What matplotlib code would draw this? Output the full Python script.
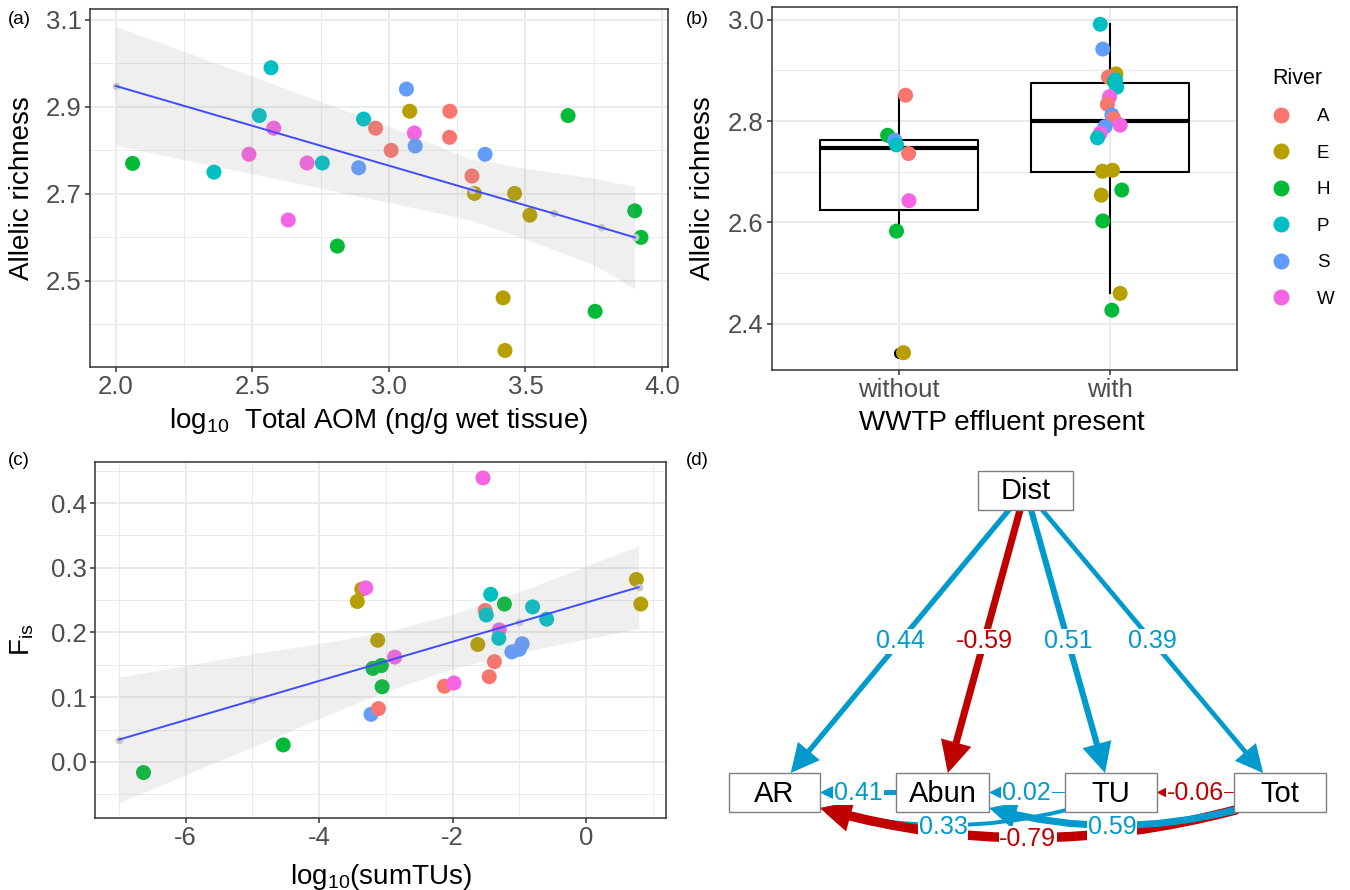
import matplotlib
matplotlib.use('Agg')
import matplotlib.pyplot as plt
import numpy as np
from matplotlib.lines import Line2D
from matplotlib.patches import FancyArrowPatch, Rectangle
from matplotlib.ticker import MultipleLocator

plt.rcParams['font.family'] = ['Liberation Sans', 'DejaVu Sans']
plt.rcParams['mathtext.fontset'] = 'custom'
plt.rcParams['mathtext.rm'] = 'Liberation Sans'
plt.rcParams['mathtext.it'] = 'Liberation Sans:italic'
plt.rcParams['axes.unicode_minus'] = False

rivers = ['A', 'E', 'H', 'P', 'S', 'W']
river_cols = ['#F8766D', '#B79F00', '#00BA38', '#00BFC4', '#619CFF', '#F564E3']
col_of = dict(zip(rivers, river_cols))

# ---- (a) allelic richness vs log10 total AOM
a_river = ['H', 'P', 'P', 'P', 'W', 'W', 'W', 'P', 'W', 'H', 'S', 'P', 'A', 'A', 'S', 'E',
           'W', 'S', 'A', 'A', 'S', 'A', 'E', 'E', 'E', 'H', 'H', 'H', 'E', 'H', 'E']
a_aom = [2.061, 2.359, 2.568, 2.525, 2.578, 2.487, 2.700, 2.756, 2.631, 2.811, 2.889, 2.907,
         2.951, 3.008, 3.064, 3.076, 3.093, 3.096, 3.223, 3.222, 3.352, 3.304, 3.313, 3.460,
         3.516, 3.656, 3.900, 3.923, 3.418, 3.755, 3.425]
a_ar = [2.770, 2.750, 2.990, 2.880, 2.851, 2.791, 2.771, 2.771, 2.640, 2.580, 2.760, 2.872,
        2.851, 2.800, 2.941, 2.890, 2.840, 2.810, 2.890, 2.830, 2.791, 2.741, 2.701, 2.701,
        2.651, 2.880, 2.661, 2.600, 2.461, 2.430, 2.340]
a_fit_x = [2.0, 3.305, 3.603, 3.776, 3.9]
a_fit_y = [2.948, 2.709, 2.655, 2.623, 2.600]
a_band_x = [2.0, 2.5, 3.0, 3.3, 3.5, 3.75, 3.9]
a_band_hi = [3.085, 2.970, 2.855, 2.780, 2.759, 2.736, 2.717]
a_band_lo = [2.811, 2.746, 2.680, 2.640, 2.596, 2.537, 2.482]

# ---- (b) allelic richness by WWTP effluent
b_groups = ['without', 'with']
b_without_river = ['A', 'H', 'S', 'P', 'A', 'W', 'H', 'E']
b_without_ar = [2.851, 2.772, 2.762, 2.753, 2.736, 2.643, 2.583, 2.343]
b_without_jit = [0.032, -0.053, -0.019, -0.011, 0.046, 0.048, -0.011, 0.022]
b_with_river = ['P', 'S', 'E', 'A', 'H', 'P', 'P', 'W', 'A', 'S', 'A', 'W', 'S', 'W', 'P',
                'E', 'E', 'H', 'E', 'H', 'E', 'H']
b_with_ar = [2.991, 2.942, 2.893, 2.887, 2.878, 2.881, 2.867, 2.848, 2.833, 2.812, 2.805,
             2.792, 2.789, 2.776, 2.767, 2.701, 2.703, 2.664, 2.654, 2.603, 2.460, 2.427]
b_with_jit = [-0.047, -0.035, 0.027, -0.008, 0.020, 0.025, 0.031, -0.003, -0.013, 0.008,
              0.016, 0.047, -0.024, -0.047, -0.060, -0.036, 0.011, 0.055, -0.042, -0.035,
              0.047, 0.008]
b_box = [dict(whislo=2.583, q1=2.624, med=2.747, q3=2.762, whishi=2.851, fliers=[2.342]),
         dict(whislo=2.460, q1=2.700, med=2.800, q3=2.875, whishi=2.991, fliers=[2.427])]

# ---- (c) Fis vs log10(sumTUs)
c_river = ['H', 'H', 'S', 'A', 'H', 'H', 'H', 'W', 'E', 'E', 'E', 'W', 'A', 'W', 'W', 'E',
           'A', 'A', 'P', 'A', 'P', 'H', 'W', 'P', 'S', 'S', 'S', 'P', 'P', 'E', 'E']
c_tu = [-6.633, -4.539, -3.222, -3.111, -3.056, -3.194, -3.067, -2.867, -3.122, -3.428,
        -3.361, -3.300, -2.122, -1.978, -1.544, -1.622, -1.450, -1.372, -1.428, -1.511,
        -1.494, -1.222, -1.300, -1.306, -1.111, -1.000, -0.956, -0.800, -0.589, 0.756, 0.822]
c_fis = [-0.0165, 0.0262, 0.0735, 0.0823, 0.1162, 0.1445, 0.149, 0.162, 0.188, 0.248,
         0.267, 0.269, 0.117, 0.122, 0.439, 0.1815, 0.1316, 0.155, 0.259, 0.234, 0.227,
         0.244, 0.204, 0.191, 0.170, 0.174, 0.1825, 0.2396, 0.2206, 0.282, 0.244]
c_fit_x = [-7.0, -5.0, -1.0, 0.789]
c_fit_y = [0.0344, 0.0949, 0.2159, 0.270]
c_band_x = [-7.0, -5.0, -4.0, -3.0, -2.0, -1.0, 0.789]
c_band_hi = [0.131, 0.167, 0.183, 0.201, 0.228, 0.263, 0.334]
c_band_lo = [-0.063, 0.023, 0.067, 0.109, 0.144, 0.169, 0.206]

# ---- (d) path model
d_nodes = ['Dist', 'AR', 'Abun', 'TU', 'Tot']
d_from = ['Dist', 'Dist', 'Dist', 'Dist', 'Abun', 'TU', 'Tot', 'TU', 'Tot', 'Tot']
d_to = ['AR', 'Abun', 'TU', 'Tot', 'AR', 'Abun', 'TU', 'AR', 'AR', 'Abun']
d_coef = [0.44, -0.59, 0.51, 0.39, 0.41, 0.02, -0.06, 0.33, -0.79, 0.59]

# layout of the path diagram (pixel coords inside panel d)
node_xy = {'Dist': (1025.5, 490), 'AR': (774.5, 792.5), 'Abun': (942.5, 792.5),
           'TU': (1110.5, 792.5), 'Tot': (1279.5, 792.5)}
node_w = {'Dist': 95, 'AR': 91, 'Abun': 93, 'TU': 92, 'Tot': 92}
node_h = 39

W, H = 1350, 890
fig = plt.figure(figsize=(13.5, 8.9), dpi=100)

def px_axes(l, r, t, b):
    return fig.add_axes([l / W, 1 - b / H, (r - l) / W, (b - t) / H])

tick_col = '#4D4D4D'
grid_col = '#EBEBEB'

def style_bw(ax):
    ax.set_axisbelow(True)
    ax.grid(True, which='major', color=grid_col, lw=1.4)
    ax.grid(True, which='minor', color=grid_col, lw=0.7)
    for s in ax.spines.values():
        s.set_color('#333333')
        s.set_linewidth(1.1)
    ax.tick_params(which='major', length=3.6, width=1.1, color='#333333',
                   labelsize=18.5, labelcolor=tick_col, pad=2.5)
    ax.tick_params(which='minor', length=0)

pt_size = 117

# (a)
ax = px_axes(90, 668, 9, 367)
style_bw(ax)
ax.scatter(a_aom, a_ar, s=pt_size, c=[col_of[r] for r in a_river], lw=0, zorder=2)
ax.fill_between(a_band_x, a_band_lo, a_band_hi, color='#999999', alpha=0.15, lw=0, zorder=3)
ax.plot(a_fit_x, a_fit_y, color='#3F4CFF', lw=1.4, zorder=4)
ax.scatter(a_fit_x, a_fit_y, s=30, color='#C8C8C8', lw=0, zorder=3.5)
ax.set_xlim(1.905, 4.022)
ax.set_ylim(2.302, 3.125)
ax.xaxis.set_major_locator(MultipleLocator(0.5))
ax.xaxis.set_minor_locator(MultipleLocator(0.25))
ax.set_yticks([2.5, 2.7, 2.9, 3.1])
ax.set_yticks([2.4, 2.6, 2.8, 3.0], minor=True)
ax.xaxis.set_major_formatter(matplotlib.ticker.FormatStrFormatter('%.1f'))
ax.set_xlabel(r'$\mathregular{log_{10}}$  Total AOM (ng/g wet tissue)', fontsize=20)
ax.set_ylabel('Allelic richness', fontsize=20)
ax.xaxis.label.set_va('center')
ax.yaxis.label.set_va('center')
ax.xaxis.set_label_coords(0.5, -0.151)
ax.yaxis.set_label_coords(-0.118, 0.5)

# (b)
ax = px_axes(772, 1237, 7, 370)
style_bw(ax)
ax.bxp(b_box, positions=[1, 2], widths=0.75, showcaps=False,
       boxprops=dict(color='black', lw=1.5),
       whiskerprops=dict(color='black', lw=1.5),
       medianprops=dict(color='black', lw=3),
       flierprops=dict(marker='o', markerfacecolor='black', markeredgecolor='black',
                       markersize=7), zorder=2)
ax.scatter(1 + np.array(b_without_jit), b_without_ar, s=pt_size,
           c=[col_of[r] for r in b_without_river], lw=0, zorder=3)
ax.scatter(2 + np.array(b_with_jit), b_with_ar, s=pt_size,
           c=[col_of[r] for r in b_with_river], lw=0, zorder=3)
ax.set_xlim(0.4, 2.6)
ax.set_ylim(2.309, 3.025)
ax.set_xticks([1, 2])
ax.set_xticklabels(b_groups)
ax.set_yticks([2.4, 2.6, 2.8, 3.0])
ax.set_yticks([2.5, 2.7, 2.9], minor=True)
ax.yaxis.set_major_formatter(matplotlib.ticker.FormatStrFormatter('%.1f'))
ax.set_xlabel('WWTP effluent present', fontsize=20)
ax.set_ylabel('Allelic richness', fontsize=20)
ax.xaxis.label.set_va('center')
ax.yaxis.label.set_va('center')
ax.xaxis.set_label_coords(0.495, -0.146)
ax.yaxis.set_label_coords(-0.148, 0.5)
handles = [Line2D([], [], ls='none', marker='o', markersize=11.5, color=c, mew=0)
           for c in river_cols]
ax.legend(handles, rivers, title='River', loc='upper left',
          bbox_to_anchor=(1272 / W, 1 - 68 / H), bbox_transform=fig.transFigure,
          frameon=False, fontsize=13.5, title_fontsize=15.5, handlelength=1.0,
          handletextpad=1.4, labelspacing=1.03, alignment='left', borderpad=0,
          borderaxespad=0)

# (c)
ax = px_axes(95, 666, 462, 818)
style_bw(ax)
ax.scatter(c_tu, c_fis, s=pt_size, c=[col_of[r] for r in c_river], lw=0, zorder=2)
ax.fill_between(c_band_x, c_band_lo, c_band_hi, color='#999999', alpha=0.15, lw=0, zorder=3)
ax.plot(c_fit_x, c_fit_y, color='#3F4CFF', lw=1.4, zorder=4)
ax.scatter(c_fit_x, c_fit_y, s=30, color='#C8C8C8', lw=0, zorder=3.5)
ax.set_xlim(-7.36, 1.2)
ax.set_ylim(-0.0868, 0.4636)
ax.set_xticks([-6, -4, -2, 0])
ax.set_xticks([-7, -5, -3, -1, 1], minor=True)
ax.set_yticks([0.0, 0.1, 0.2, 0.3, 0.4])
ax.set_yticks([-0.05, 0.05, 0.15, 0.25, 0.35, 0.45], minor=True)
ax.yaxis.set_major_formatter(matplotlib.ticker.FormatStrFormatter('%.1f'))
ax.set_xlabel(r'$\mathregular{log_{10}(sumTUs)}$', fontsize=20)
ax.set_ylabel(r'$\mathregular{F_{is}}$', fontsize=20)
ax.xaxis.label.set_va('center')
ax.yaxis.label.set_va('center')
ax.xaxis.set_label_coords(0.5, -0.166)
ax.yaxis.set_label_coords(-0.128, 0.5)

# (d)
ax = fig.add_axes([700 / W, 0, 650 / W, 460 / H])
ax.set_xlim(700, 1350)
ax.set_ylim(890, 430)
ax.axis('off')

blue, red = '#009ACD', '#C00000'

def border_pt(name, other):
    # where the line from node centre towards other node leaves the node box
    x0, y0 = node_xy[name]
    x1, y1 = node_xy[other]
    dx, dy = x1 - x0, y1 - y0
    hw, hh = node_w[name] / 2, node_h / 2
    t = min(hw / abs(dx) if dx else 1e9, hh / abs(dy) if dy else 1e9)
    return x0 + dx * t, y0 + dy * t

curved = {('TU', 'AR'): -0.13, ('Tot', 'AR'): -0.135, ('Tot', 'Abun'): -0.13}
order = [7, 8, 9, 0, 1, 2, 3, 4, 5, 6]
labels = []
for i in order:
    f, t, c = d_from[i], d_to[i], d_coef[i]
    col = blue if c > 0 else red
    lw_px = max(1.0, 12 * abs(c))
    if (f, t) in curved:
        xa, ya = node_xy[f][0] - node_w[f] / 2 + 2, node_xy[f][1] + node_h / 2 - 2
        xb, yb = node_xy[t][0] + node_w[t] / 2, node_xy[t][1] + node_h / 2 - 4
        rad = curved[(f, t)]
        head = 16
        sag = abs(rad) * abs(xa - xb) / 2
        lab = ((xa + xb) / 2, (ya + yb) / 2 + sag + 2)
    else:
        xa, ya = border_pt(f, t)
        xb, yb = border_pt(t, f)
        rad = 0
        head = 20 if f == 'Dist' else 11
        lab = ((node_xy[f][0] + node_xy[t][0]) / 2, (node_xy[f][1] + node_xy[t][1]) / 2)
    arr = FancyArrowPatch((xa, ya), (xb, yb), connectionstyle='arc3,rad=%s' % rad,
                          arrowstyle='-|>,head_length=1.0,head_width=0.5',
                          mutation_scale=head * 0.72, lw=lw_px * 0.72, color=col,
                          shrinkA=0, shrinkB=0, zorder=2, joinstyle='miter')
    ax.add_patch(arr)
    labels.append((lab, '%.2f' % c, col))

for (lx, ly), s, col in labels:
    ax.text(lx, ly, s, color=col, fontsize=18, ha='center', va='center', zorder=5,
            bbox=dict(facecolor='white', edgecolor='none', pad=0.5))

for n in d_nodes:
    x, y = node_xy[n]
    ax.add_patch(Rectangle((x - node_w[n] / 2, y - node_h / 2), node_w[n], node_h,
                           facecolor='white', edgecolor='#808080', lw=1.0, zorder=6))
    ax.text(x, y + 1, n, fontsize=21, ha='center', va='center', zorder=7)

# panel tags
for tag, x, y in [('(a)', 8, 20), ('(b)', 686, 20), ('(c)', 8, 460), ('(d)', 686, 460)]:
    fig.text(x / W, 1 - y / H, tag, fontsize=13.5, ha='left', va='center')

fig.savefig('out.png', dpi=100)
